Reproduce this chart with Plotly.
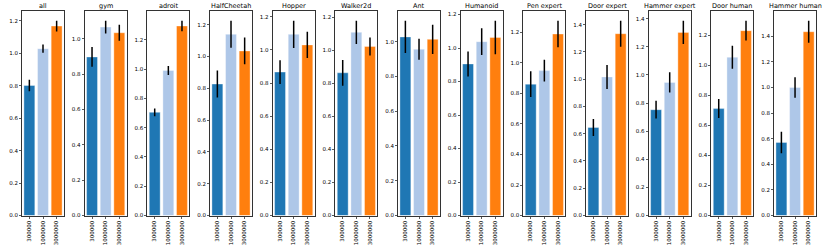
import plotly.graph_objects as go

titles = ["all", "gym", "adroit", "HalfCheetah", "Hopper", "Walker2d", "Ant",
          "Humanoid", "Pen expert", "Door expert", "Hammer expert", "Door human", "Hammer human"]
tick_labels = ["300000", "1000000", "3000000"]
colors = ["#1f77b4", "#aec7e8", "#ff7f0e"]

# mean values per task for (300000, 1000000, 3000000)
v_all = [0.801, 1.028, 1.167]
v_gym = [0.897, 1.066, 1.034]
v_adroit = [0.705, 0.991, 1.295]
v_halfcheetah = [0.827, 1.140, 1.035]
v_hopper = [0.866, 1.094, 1.030]
v_walker = [0.863, 1.108, 1.022]
v_ant = [1.027, 0.956, 1.013]
v_humanoid = [0.905, 1.038, 1.063]
v_pen_exp = [0.861, 0.950, 1.190]
v_door_exp = [0.646, 1.017, 1.334]
v_hammer_exp = [0.753, 0.947, 1.303]
v_door_hum = [0.712, 1.054, 1.231]
v_hammer_hum = [0.571, 1.000, 1.436]

# error bar half-lengths
e_all = [0.036, 0.026, 0.033]
e_gym = [0.056, 0.036, 0.045]
e_adroit = [0.026, 0.030, 0.036]
e_halfcheetah = [0.085, 0.085, 0.084]
e_hopper = [0.072, 0.082, 0.079]
e_walker = [0.078, 0.070, 0.055]
e_ant = [0.093, 0.060, 0.084]
e_humanoid = [0.075, 0.080, 0.100]
e_pen_exp = [0.084, 0.072, 0.087]
e_door_exp = [0.062, 0.088, 0.095]
e_hammer_exp = [0.063, 0.072, 0.083]
e_door_hum = [0.063, 0.076, 0.066]
e_hammer_hum = [0.084, 0.080, 0.086]

values = [v_all, v_gym, v_adroit, v_halfcheetah, v_hopper, v_walker, v_ant,
          v_humanoid, v_pen_exp, v_door_exp, v_hammer_exp, v_door_hum, v_hammer_hum]
errors = [e_all, e_gym, e_adroit, e_halfcheetah, e_hopper, e_walker, e_ant,
          e_humanoid, e_pen_exp, e_door_exp, e_hammer_exp, e_door_hum, e_hammer_hum]

W, H = 830, 245
left0, step, width = 22.0, 62.67, 42.0
top_px, bot_px = 11.0, 215.5
font = "DejaVu Sans"

fig = go.Figure()
layout = dict(width=W, height=H, margin=dict(l=0, r=0, t=0, b=0, autoexpand=False),
              paper_bgcolor="white", plot_bgcolor="white", showlegend=False,
              font=dict(family=font, size=5, color="#000000"), annotations=[])

axis_style = dict(showline=True, linecolor="#333333", linewidth=1, mirror=True,
                  ticks="outside", ticklen=2, tickwidth=0.8, tickcolor="#333333",
                  showgrid=False, zeroline=False, fixedrange=True, automargin=False)

for i, (t, v, e) in enumerate(zip(titles, values, errors)):
    n = "" if i == 0 else str(i + 1)
    xa, ya = "x" + n, "y" + n
    fig.add_trace(go.Bar(
        x=[0, 1, 2], y=v, width=0.8,
        marker=dict(color=colors, line=dict(width=0.6, color="rgba(255,255,255,0.6)")),
        error_y=dict(type="data", array=e, visible=True, color="black", thickness=1.5, width=0),
        xaxis=xa, yaxis=ya, hoverinfo="skip"))
    x0 = (left0 + step * i) / W
    x1 = (left0 + step * i + width) / W
    ymax = 1.05 * max(a + b for a, b in zip(v, e))
    layout["xaxis" + n] = dict(domain=[x0, x1], range=[-0.54, 2.54], anchor=ya,
                               tickvals=[0, 1, 2], ticktext=tick_labels, tickangle=-90,
                               tickfont=dict(size=5.5, family=font, color="#000000"),
                               **axis_style)
    layout["yaxis" + n] = dict(domain=[(H - bot_px) / H, (H - top_px) / H], range=[0, ymax],
                               anchor=xa, dtick=0.2, tick0=0, tickformat=".1f",
                               tickfont=dict(size=5.5, family=font, color="#000000"),
                               **axis_style)
    layout["annotations"].append(dict(text=t, x=(x0 + x1) / 2, y=(H - 5.5) / H,
                                      xref="paper", yref="paper", showarrow=False,
                                      xanchor="center", yanchor="middle",
                                      font=dict(size=6.5, family=font, color="#000000")))

fig.update_layout(**layout)
fig.write_html("out.html", config={"displayModeBar": False, "staticPlot": True},
               post_script="document.body.style.margin='0';document.body.style.overflow='hidden';")
